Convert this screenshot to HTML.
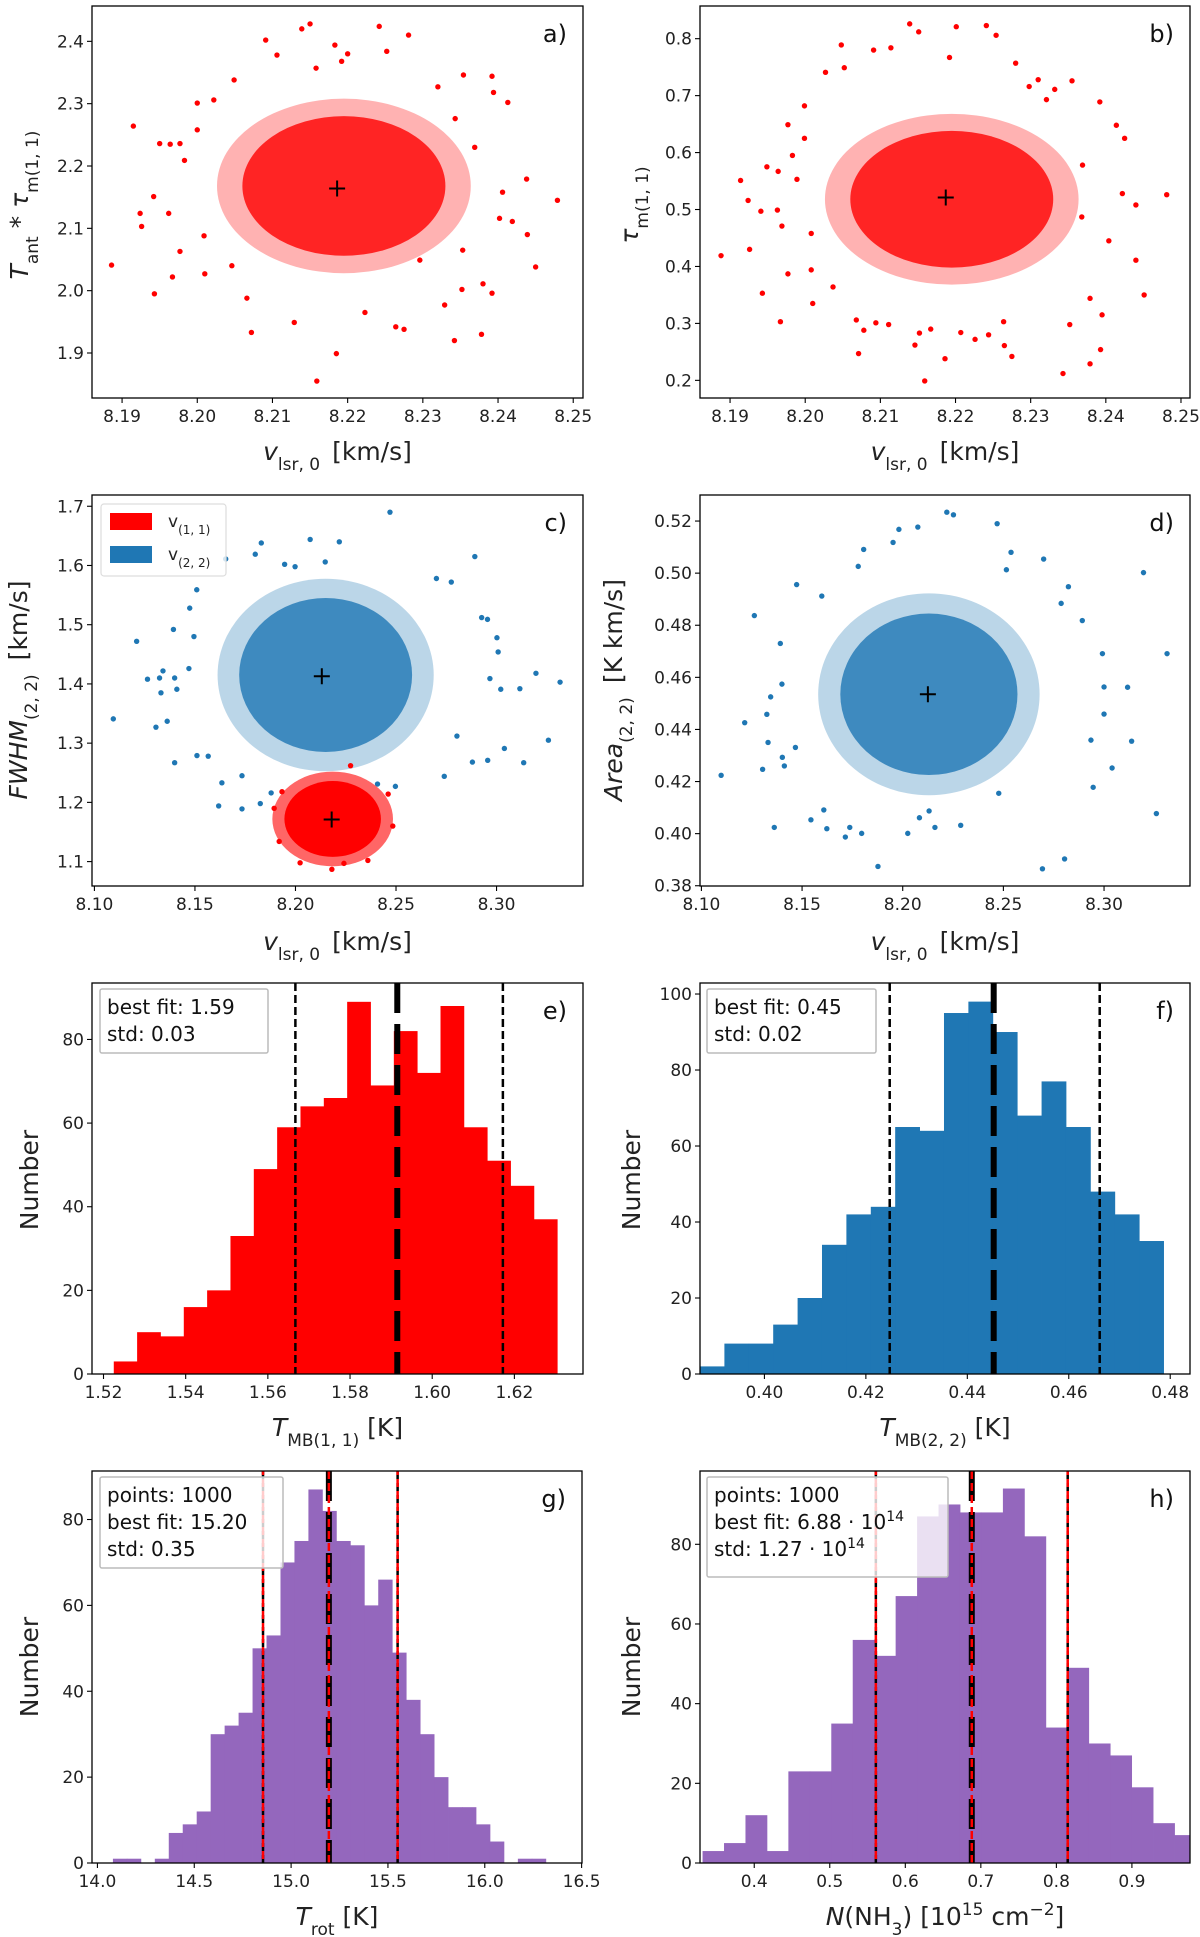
<!DOCTYPE html>
<html><head><meta charset="utf-8"><title>MCMC parameter distributions</title>
<style>
html,body{margin:0;padding:0;background:#fff;}
svg{display:block;font-family:"DejaVu Sans","Liberation Sans",sans-serif;}
</style></head>
<body>
<svg id="chart" width="1200" height="1937" viewBox="0 0 1200 1937" xmlns="http://www.w3.org/2000/svg"></svg>
<script>
// ---------- DATA ----------
const aPoints = [[8.1886,2.041],[8.1915,2.264],[8.1924,2.124],[8.1926,2.103],[8.1942,2.151],[8.1943,1.995],[8.195,2.236],[8.1964,2.235],[8.1962,2.124],[8.1967,2.022],[8.1977,2.236],[8.1977,2.063],[8.1983,2.209],[8.2,2.301],[8.2,2.258],[8.201,2.027],[8.2009,2.088],[8.2049,2.338],[8.2072,1.933],[8.2091,2.402],[8.2106,2.378],[8.2129,1.949],[8.2139,2.42],[8.215,2.428],[8.2158,2.357],[8.2159,1.855],[8.2185,1.899],[8.2183,2.394],[8.2192,2.368],[8.22,2.38],[8.2242,2.424],[8.2252,2.384],[8.2281,2.41],[8.2223,1.965],[8.2264,1.942],[8.2275,1.938],[8.232,2.327],[8.2329,1.977],[8.2342,1.92],[8.2354,2.346],[8.2378,1.93],[8.2392,2.344],[8.2392,1.996],[8.238,2.011],[8.2394,2.318],[8.2413,2.302],[8.2402,2.116],[8.2419,2.111],[8.2438,2.179],[8.2439,2.09],[8.245,2.038],[8.2479,2.145],[8.2406,2.158],[8.2369,2.23],[8.2343,2.276],[8.2353,2.065],[8.2352,2.002],[8.2296,2.049],[8.2066,1.988],[8.2046,2.04],[8.2022,2.306]];
const aCore = [8.2195, 2.168, 0.0135, 0.112];
const aBest = [8.2186, 2.164];
const bPoints = [[8.1888,0.419],[8.1914,0.551],[8.1924,0.516],[8.1926,0.430],[8.1941,0.497],[8.1943,0.353],[8.1949,0.575],[8.1963,0.499],[8.1964,0.567],[8.1967,0.303],[8.1969,0.471],[8.1977,0.649],[8.1977,0.387],[8.1983,0.595],[8.1989,0.553],[8.1999,0.682],[8.1999,0.625],[8.2008,0.394],[8.201,0.335],[8.2008,0.458],[8.2027,0.741],[8.2037,0.364],[8.2048,0.789],[8.2052,0.749],[8.2071,0.247],[8.2078,0.288],[8.2068,0.306],[8.2091,0.780],[8.2114,0.784],[8.2094,0.301],[8.2111,0.298],[8.2139,0.826],[8.2151,0.812],[8.2146,0.262],[8.2159,0.199],[8.2152,0.283],[8.2167,0.290],[8.2186,0.238],[8.2201,0.821],[8.2192,0.767],[8.2207,0.284],[8.2241,0.823],[8.2254,0.806],[8.2226,0.272],[8.2244,0.280],[8.2264,0.303],[8.2265,0.261],[8.2275,0.242],[8.228,0.757],[8.231,0.728],[8.2332,0.711],[8.2355,0.726],[8.2343,0.212],[8.2352,0.298],[8.2379,0.344],[8.2379,0.229],[8.2392,0.689],[8.2393,0.254],[8.2395,0.315],[8.2414,0.648],[8.2425,0.625],[8.2422,0.528],[8.244,0.508],[8.244,0.411],[8.2451,0.350],[8.2481,0.526],[8.2404,0.445],[8.2368,0.487],[8.2369,0.578],[8.2321,0.693],[8.2298,0.716]];
const bCore = [8.2195, 0.518, 0.0135, 0.12];
const bBest = [8.2187, 0.521];
const cBluePoints = [[8.1094,1.341],[8.121,1.472],[8.1264,1.408],[8.1306,1.327],[8.1324,1.410],[8.1331,1.385],[8.1341,1.422],[8.1362,1.337],[8.1399,1.267],[8.1399,1.410],[8.141,1.391],[8.1393,1.492],[8.147,1.426],[8.1474,1.528],[8.1495,1.480],[8.1509,1.559],[8.151,1.279],[8.1566,1.278],[8.1618,1.194],[8.1634,1.233],[8.1653,1.611],[8.1734,1.245],[8.1734,1.189],[8.18,1.619],[8.183,1.638],[8.1825,1.198],[8.1879,1.216],[8.1946,1.602],[8.1998,1.598],[8.2073,1.644],[8.2148,1.606],[8.2218,1.640],[8.247,1.690],[8.2892,1.615],[8.2926,1.512],[8.2955,1.509],[8.3002,1.478],[8.3008,1.454],[8.2967,1.409],[8.3021,1.391],[8.3116,1.392],[8.3196,1.418],[8.3316,1.403],[8.3039,1.291],[8.3135,1.267],[8.3258,1.305],[8.288,1.268],[8.2956,1.271],[8.2803,1.312],[8.274,1.244],[8.2775,1.572],[8.2701,1.578],[8.2497,1.227],[8.2408,1.231]];
const cBlueCore = [8.215, 1.415, 0.043, 0.13];
const cRedPoints = [[8.1894,1.19],[8.1919,1.134],[8.2023,1.098],[8.2181,1.087],[8.2241,1.097],[8.236,1.102],[8.2484,1.160],[8.2461,1.214],[8.2274,1.262],[8.1933,1.218]];
const cRedCore = [8.2185, 1.172, 0.024, 0.064];
const cBlueBest = [8.2131, 1.413];
const cRedBest = [8.2180, 1.171];
const dPoints = [[8.1098,0.4224],[8.1215,0.4426],[8.1263,0.4837],[8.1304,0.4247],[8.1325,0.4458],[8.1331,0.4350],[8.1344,0.4525],[8.1362,0.4024],[8.1392,0.4730],[8.14,0.4574],[8.1402,0.4293],[8.1412,0.4260],[8.1467,0.4331],[8.1473,0.4956],[8.1544,0.4053],[8.1598,0.4912],[8.1608,0.4091],[8.1623,0.4019],[8.1715,0.3987],[8.1737,0.4024],[8.1796,0.4001],[8.1877,0.3874],[8.2025,0.4001],[8.2083,0.4061],[8.216,0.4024],[8.2131,0.4087],[8.2288,0.4032],[8.2477,0.4155],[8.2694,0.3865],[8.2804,0.3903],[8.326,0.4077],[8.3196,0.5002],[8.3313,0.4691],[8.3117,0.4562],[8.3137,0.4355],[8.304,0.4252],[8.3,0.4563],[8.3,0.4459],[8.2992,0.4691],[8.2892,0.4818],[8.2946,0.4178],[8.2935,0.4359],[8.2787,0.4884],[8.2823,0.4948],[8.27,0.5054],[8.2538,0.508],[8.2469,0.519],[8.2219,0.5234],[8.2252,0.5224],[8.2075,0.5177],[8.1981,0.5168],[8.1952,0.5118],[8.1806,0.5091],[8.1779,0.5026],[8.2515,0.5013]];
const dCore = [8.213, 0.4535, 0.044, 0.031];
const dBest = [8.2125, 0.4535];
const eCounts = [3,10,9,16,20,33,49,59,64,66,89,69,82,72,88,59,51,45,37];
const eBins = [1.5225, 0.00568];
const eLines = [1.5667, 1.5915, 1.6172];
const fCounts = [2,8,8,13,20,34,42,44,65,64,95,98,90,68,77,65,48,42,35];
const fBins = [0.3873, 0.00481];
const fLines = [0.4247, 0.4452, 0.4661];
const gCounts = [1,1,0,1,7,9,12,30,32,35,50,53,70,75,87,82,75,74,60,66,49,38,30,20,13,13,9,5,0,1,1];
const gBins = [14.08, 0.0721];
const gLines = [14.855, 15.195, 15.55];
const hCounts = [3,5,12,3,23,23,35,56,52,67,87,90,88,88,94,82,34,49,30,27,19,10,7];
const hBins = [0.3316, 0.0284];
const hLines = [0.561, 0.688, 0.815];
const abXTicks = ["8.19","8.20","8.21","8.22","8.23","8.24","8.25"];
const aYTicks = ["1.9","2.0","2.1","2.2","2.3","2.4"];
const bYTicks = ["0.2","0.3","0.4","0.5","0.6","0.7","0.8"];
const cdXTicks = ["8.10","8.15","8.20","8.25","8.30"];
const cYTicks = ["1.1","1.2","1.3","1.4","1.5","1.6","1.7"];
const dYTicks = ["0.38","0.40","0.42","0.44","0.46","0.48","0.50","0.52"];
const eXTicks = ["1.52","1.54","1.56","1.58","1.60","1.62"];
const fXTicks = ["0.40","0.42","0.44","0.46","0.48"];
const gXTicks = ["14.0","14.5","15.0","15.5","16.0","16.5"];
const hXTicks = ["0.4","0.5","0.6","0.7","0.8","0.9"];
const eYTicks = ["0","20","40","60","80"];
const fYTicks = ["0","20","40","60","80","100"];

// ---------- DRAWING ----------
const NS = "http://www.w3.org/2000/svg";
const svg = document.getElementById('chart');
function el(tag, attrs, parent){
  const e = document.createElementNS(NS, tag);
  for (const k in attrs) e.setAttribute(k, attrs[k]);
  (parent || svg).appendChild(e);
  return e;
}
const RED = "#ff0000", BLUE = "#1f77b4", PURPLE = "#9467bd";
let clipId = 0;

function makeAxes(name, x0, x1, y0, y1, xmin, xmax, ymin, ymax){
  const g = el('g', {});
  
  
  const id = 'clip' + (clipId++);
  const cp = el('clipPath', {id: id}, g);
  el('rect', {x: x0, y: y0, width: x1 - x0, height: y1 - y0}, cp);
  const marks = el('g', {'clip-path': 'url(#' + id + ')'}, g);
  
  
  return {g, marks, x0, x1, y0, y1,
    sx: v => x0 + (v - xmin) / (xmax - xmin) * (x1 - x0),
    sy: v => y1 - (v - ymin) / (ymax - ymin) * (y1 - y0)};
}
function finishAxes(ax, xt, yt, tag){
  const f = el('rect', {x: ax.x0, y: ax.y0, width: ax.x1 - ax.x0, height: ax.y1 - ax.y0, fill: 'none', stroke: '#000', 'stroke-width': 1.3}, ax.g);
  
  
  xt.forEach(t => {
    const x = ax.sx(parseFloat(t));
    el('line', {x1: x, x2: x, y1: ax.y1, y2: ax.y1 + 5, stroke: '#000', 'stroke-width': 1.1}, ax.g);
    const tx = el('text', {x: x, y: ax.y1 + 24, 'text-anchor': 'middle', 'font-size': 17, fill: '#222'}, ax.g);
    tx.textContent = t;
    
    
  });
  yt.forEach(t => {
    const y = ax.sy(parseFloat(t));
    el('line', {x1: ax.x0 - 5, x2: ax.x0, y1: y, y2: y, stroke: '#000', 'stroke-width': 1.1}, ax.g);
    const ty = el('text', {x: ax.x0 - 8, y: y + 6, 'text-anchor': 'end', 'font-size': 17, fill: '#222'}, ax.g);
    ty.textContent = t;
    
    
  });
  const pl = el('text', {x: ax.x1 - 16, y: ax.y0 + 36, 'text-anchor': 'end', 'font-size': 24, fill: '#111'}, ax.g);
  pl.textContent = tag;
  
  
}
function xLabel(ax, html, y){
  const t = el('text', {x: (ax.x0 + ax.x1) / 2, y: y, 'text-anchor': 'middle', 'font-size': 25, fill: '#222'}, ax.g);
  t.innerHTML = html;
  
  
}
function yLabel(ax, html, x, cy){
  const t = el('text', {x: x, y: cy, 'text-anchor': 'middle', 'font-size': 25, fill: '#222', transform: 'rotate(-90 ' + x + ' ' + cy + ')'}, ax.g);
  t.innerHTML = html;
  
  
}
function scatter(ax, pts, core, color, solid){
  const halo = el('ellipse', {cx: ax.sx(core[0]), cy: ax.sy(core[1]), rx: Math.abs(ax.sx(core[0] + core[2]*1.25) - ax.sx(core[0])), ry: Math.abs(ax.sy(core[1] + core[3]*1.25) - ax.sy(core[1])), fill: color, opacity: solid ? 0.6 : 0.3}, ax.marks);
  
  
  const c = el('ellipse', {cx: ax.sx(core[0]), cy: ax.sy(core[1]), rx: Math.abs(ax.sx(core[0] + core[2]) - ax.sx(core[0])), ry: Math.abs(ax.sy(core[1] + core[3]) - ax.sy(core[1])), fill: color, opacity: solid ? 1 : 0.8}, ax.marks);
  
  
  pts.forEach(p => {
    const d = el('circle', {cx: ax.sx(p[0]), cy: ax.sy(p[1]), r: 2.7, fill: color}, ax.marks);
    
    
  });
}
function cross(ax, p){
  const x = ax.sx(p[0]), y = ax.sy(p[1]);
  const c = el('path', {d: 'M' + (x-8) + ' ' + y + 'H' + (x+8) + 'M' + x + ' ' + (y-8) + 'V' + (y+8), stroke: '#000', 'stroke-width': 2, fill: 'none'}, ax.marks);
  
  
}
function hist(ax, counts, bins, color){
  counts.forEach((n, i) => {
    if (n <= 0) return;
    const xa = ax.sx(bins[0] + i * bins[1]), xb = ax.sx(bins[0] + (i + 1) * bins[1]);
    const r = el('rect', {x: xa, y: ax.sy(n), width: xb - xa + 0.4, height: ax.sy(0) - ax.sy(n), fill: color}, ax.marks);
    
    
  });
}
function vlines(ax, lines, withRed){
  lines.forEach((v, i) => {
    const x = ax.sx(v);
    const thick = i === 1;
    const l = el('line', {x1: x, x2: x, y1: ax.y0, y2: ax.y1, stroke: '#000', 'stroke-width': thick ? 6 : 2.5, 'stroke-dasharray': thick ? '30 11' : '8 4'}, ax.marks);
    
    
    if (withRed){
      const r = el('line', {x1: x, x2: x, y1: ax.y0, y2: ax.y1, stroke: RED, 'stroke-width': 2.5, 'stroke-dasharray': '8 4', 'stroke-dashoffset': thick ? 0 : 4}, ax.marks);
      
      
    }
  });
}
function infoBox(ax, x, y, w, h, lines, alpha){
  const b = el('rect', {x: x, y: y, width: w, height: h, fill: '#fff', 'fill-opacity': alpha, stroke: '#bbb', 'stroke-width': 1.5, rx: 2}, ax.g);
  
  
  lines.forEach((s, i) => {
    const t = el('text', {x: x + 7, y: y + 25 + i * 27, 'font-size': 20, fill: '#111'}, ax.g);
    t.innerHTML = s;
    
    
  });
}
const SUB = s => '<tspan baseline-shift="sub" font-size="17">' + s + '</tspan>';
const IT = s => '<tspan font-style="italic">' + s + '</tspan>';
const VX = IT('v') + SUB('lsr, 0') + '<tspan dx="12">[km/s]</tspan>';

const A = makeAxes('panel-a', 92, 583, 6, 398, 8.186, 8.2513, 1.8278, 2.4567);
scatter(A, aPoints, aCore, RED, false); cross(A, aBest);
finishAxes(A, abXTicks, aYTicks, 'a)');
xLabel(A, VX, 460);
yLabel(A, IT('T') + SUB('ant') + ' * ' + IT('τ') + SUB('m(1, 1)'), 28, 205);

const B = makeAxes('panel-b', 700, 1190, 6, 398, 8.186, 8.2512, 0.169, 0.8574);
scatter(B, bPoints, bCore, RED, false); cross(B, bBest);
finishAxes(B, abXTicks, bYTicks, 'b)');
xLabel(B, VX, 460);
yLabel(B, IT('τ') + SUB('m(1, 1)'), 638, 205);

const C = makeAxes('panel-c', 92, 583, 495, 886, 8.0988, 8.343, 1.0588, 1.719);
scatter(C, cBluePoints, cBlueCore, BLUE, false);
scatter(C, cRedPoints, cRedCore, RED, true);
cross(C, cBlueBest); cross(C, cRedBest);
finishAxes(C, cdXTicks, cYTicks, 'c)');
xLabel(C, VX, 950);
yLabel(C, IT('FWHM') + SUB('(2, 2)') + '<tspan dx="14">[km/s]</tspan>', 27, 690);
const lg = el('g', {}, C.g);


el('rect', {x: 101, y: 504, width: 125, height: 72, fill: '#fff', 'fill-opacity': 0.8, stroke: '#ddd', 'stroke-width': 1.2, rx: 3}, lg);
const lr = el('rect', {x: 110, y: 513, width: 42, height: 17, fill: RED}, lg);


const lb = el('rect', {x: 110, y: 546, width: 42, height: 17, fill: BLUE}, lg);


const lt1 = el('text', {x: 168, y: 527, 'font-size': 17, fill: '#222'}, lg);
lt1.innerHTML = 'v<tspan baseline-shift="sub" font-size="12">(1, 1)</tspan>';


const lt2 = el('text', {x: 168, y: 560, 'font-size': 17, fill: '#222'}, lg);
lt2.innerHTML = 'v<tspan baseline-shift="sub" font-size="12">(2, 2)</tspan>';



const D = makeAxes('panel-d', 700, 1190, 495, 886, 8.0993, 8.3427, 0.3799, 0.53);
scatter(D, dPoints, dCore, BLUE, false); cross(D, dBest);
finishAxes(D, cdXTicks, dYTicks, 'd)');
xLabel(D, VX, 950);
yLabel(D, IT('Area') + SUB('(2, 2)') + '<tspan dx="14">[K km/s]</tspan>', 622, 690);

const E = makeAxes('panel-e', 92, 583, 983, 1374, 1.5172, 1.6367, 0, 93.5);
hist(E, eCounts, eBins, RED); vlines(E, eLines, false);
finishAxes(E, eXTicks, eYTicks, 'e)');
xLabel(E, IT('T') + SUB('MB(1, 1)') + ' [K]', 1436);
yLabel(E, 'Number', 38, 1180);
infoBox(E, 100, 989, 168, 64, ['best fit: 1.59', 'std: 0.03'], 0.8);

const F = makeAxes('panel-f', 700, 1190, 983, 1374, 0.3873, 0.4839, 0, 102.9);
hist(F, fCounts, fBins, BLUE); vlines(F, fLines, false);
finishAxes(F, fXTicks, fYTicks, 'f)');
xLabel(F, IT('T') + SUB('MB(2, 2)') + ' [K]', 1436);
yLabel(F, 'Number', 640, 1180);
infoBox(F, 707, 989, 169, 64, ['best fit: 0.45', 'std: 0.02'], 0.8);

const G = makeAxes('panel-g', 92, 582, 1471, 1863, 13.972, 16.502, 0, 91.3);
hist(G, gCounts, gBins, PURPLE); vlines(G, gLines, true);
finishAxes(G, gXTicks, eYTicks, 'g)');
xLabel(G, IT('T') + SUB('rot') + ' [K]', 1925);
yLabel(G, 'Number', 38, 1667);
infoBox(G, 100, 1477, 183, 91, ['points: 1000', 'best fit: 15.20', 'std: 0.35'], 0.8);

const H = makeAxes('panel-h', 700, 1190, 1471, 1863, 0.3282, 0.9769, 0, 98.4);
hist(H, hCounts, hBins, PURPLE); vlines(H, hLines, true);
finishAxes(H, hXTicks, eYTicks, 'h)');
xLabel(H, IT('N') + '(NH' + SUB('3') + ') [10<tspan baseline-shift="super" font-size="17">15</tspan> cm<tspan baseline-shift="super" font-size="17">−2</tspan>]', 1925);
yLabel(H, 'Number', 640, 1667);
infoBox(H, 707, 1477, 241, 100, ['points: 1000', 'best fit: 6.88 · 10<tspan baseline-shift="super" font-size="14">14</tspan>', 'std: 1.27 · 10<tspan baseline-shift="super" font-size="14">14</tspan>'], 0.8);
</script>
</body></html>
